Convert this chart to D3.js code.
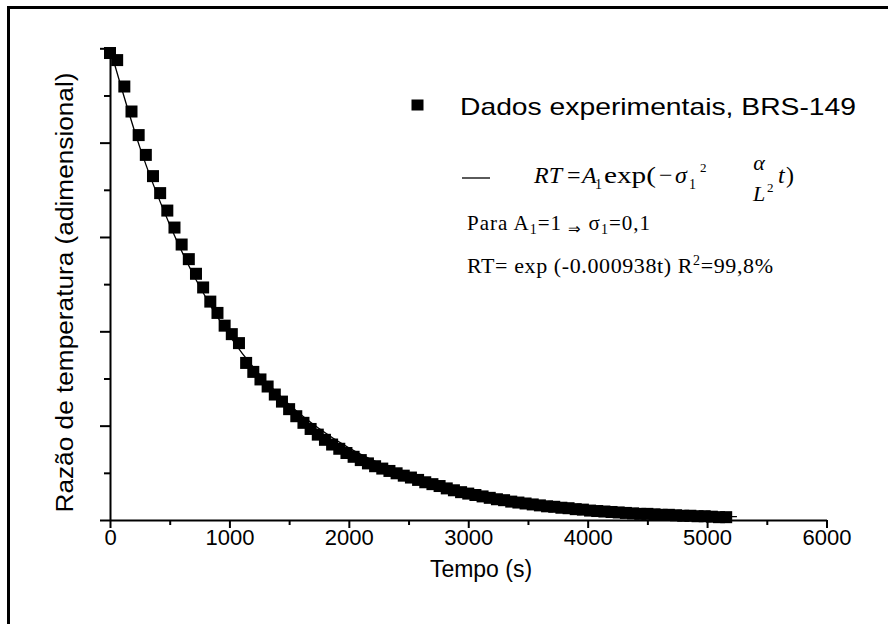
<!DOCTYPE html>
<html>
<head>
<meta charset="utf-8">
<script src="https://cdn.jsdelivr.net/npm/d3@7"></script>
<style>
  body { margin: 0; background: #fff; }
  svg { display: block; }
  .sans { font-family: "Liberation Sans", Arial, sans-serif; }
  .serif { font-family: "Liberation Serif", "Times New Roman", serif; }
</style>
</head>
<body>
<svg id="chart" width="888" height="624"></svg>
<script>
// measured points, time in s
var times = [0, 60, 120, 180, 240, 300, 360, 420, 480, 540, 600, 660, 720, 780, 840, 900, 960,
  1020, 1080, 1140, 1200, 1260, 1320, 1380, 1440, 1500, 1560, 1620, 1680, 1740, 1800, 1860, 1920, 1980,
  2040, 2100, 2160, 2220, 2280, 2340, 2400, 2460, 2520, 2580, 2640, 2700, 2760, 2820, 2880, 2940,
  3000, 3060, 3120, 3180, 3240, 3300, 3360, 3420, 3480, 3540, 3600, 3660, 3720, 3780, 3840, 3900, 3960,
  4020, 4080, 4140, 4200, 4260, 4320, 4380, 4440, 4500, 4560, 4620, 4680, 4740, 4800, 4860, 4920, 4980,
  5040, 5100, 5160];
var rtValues = [0.990, 0.975, 0.919, 0.866, 0.816, 0.774, 0.729, 0.693, 0.656, 0.620, 0.584, 0.553, 0.522, 0.493, 0.463, 0.439, 0.412,
  0.394, 0.375, 0.333, 0.314, 0.298, 0.283, 0.266, 0.251, 0.235, 0.220, 0.206, 0.193, 0.181, 0.170, 0.160, 0.151, 0.142,
  0.134, 0.127, 0.120, 0.114, 0.109, 0.104, 0.099, 0.094, 0.090, 0.085, 0.080, 0.076, 0.072, 0.067, 0.063, 0.059,
  0.056, 0.053, 0.050, 0.047, 0.044, 0.042, 0.039, 0.037, 0.035, 0.033, 0.031, 0.029, 0.028, 0.026, 0.025, 0.023, 0.022,
  0.020, 0.019, 0.018, 0.017, 0.016, 0.015, 0.014, 0.013, 0.013, 0.012, 0.011, 0.011, 0.010, 0.009, 0.009, 0.008, 0.008,
  0.007, 0.006, 0.006];

// fitted curve
var fitT = [0, 250, 500, 750, 1000, 1250, 1500, 1750, 2000, 2250, 2500, 2750, 3000, 3250, 3500, 3750, 4000, 4250, 4500, 4750, 5000, 5250];
var fitRT = [1.0, 0.79, 0.626, 0.495, 0.391, 0.309, 0.245, 0.194, 0.153, 0.121, 0.096, 0.076, 0.060, 0.047, 0.037, 0.030, 0.023, 0.019, 0.015, 0.012, 0.009, 0.007];

var xMajor = [0, 1000, 2000, 3000, 4000, 5000, 6000];
var xMinor = [500, 1500, 2500, 3500, 4500, 5500];
var yMajor = [0, 0.2, 0.4, 0.6, 0.8, 1.0];
var yMinor = [0.1, 0.3, 0.5, 0.7, 0.9];

var svg = d3.select("#chart");

var x = d3.scaleLinear().domain([0, 6000]).range([110, 826.5]);
var y = d3.scaleLinear().domain([0, 1]).range([520, 48.3]);

// frame (only top and left edges show)
svg.append("path")
  .attr("d", "M8.5,624V7.5H888")
  .attr("fill", "none")
  .attr("stroke", "#000")
  .attr("stroke-width", 3);

function styleAxis(g) {
  g.selectAll("path, line").attr("stroke", "#000").attr("stroke-width", 2);
  g.selectAll("text").attr("fill", "#000");
}

svg.append("g")
  .attr("transform", "translate(0,520)")
  .call(d3.axisBottom(x).tickValues(xMinor).tickSize(5).tickFormat(""))
  .call(function(g) { g.select(".domain").remove(); })
  .call(styleAxis);

svg.append("g")
  .attr("transform", "translate(0,520)")
  .call(d3.axisBottom(x).tickValues(xMajor).tickSize(8).tickSizeOuter(0).tickPadding(1).tickFormat(d3.format("d")))
  .call(function(g) { g.selectAll("text").attr("font-size", 22).attr("font-family", "Liberation Sans, Arial, sans-serif"); })
  .call(styleAxis);

svg.append("g")
  .attr("transform", "translate(110,0)")
  .call(d3.axisLeft(y).tickValues(yMinor).tickSize(6).tickFormat(""))
  .call(function(g) { g.select(".domain").remove(); })
  .call(styleAxis);

svg.append("g")
  .attr("transform", "translate(110,0)")
  .call(d3.axisLeft(y).tickValues(yMajor).tickSize(10).tickSizeOuter(0).tickFormat(""))
  .call(styleAxis);

// axis titles
svg.append("text")
  .attr("class", "sans")
  .attr("x", 481).attr("y", 577)
  .attr("text-anchor", "middle")
  .attr("font-size", 23)
  .text("Tempo (s)");

svg.append("text")
  .attr("class", "sans")
  .attr("transform", "translate(73,292.5) rotate(-90)")
  .attr("text-anchor", "middle")
  .attr("font-size", 23)
  .attr("textLength", 440)
  .attr("lengthAdjust", "spacingAndGlyphs")
  .text("Razão de temperatura (adimensional)");

// fit line
var line = d3.line()
  .x(function(d, i) { return x(fitT[i]); })
  .y(function(d) { return y(d); })
  .curve(d3.curveMonotoneX);

svg.append("path")
  .datum(fitRT)
  .attr("d", line)
  .attr("fill", "none")
  .attr("stroke", "#000")
  .attr("stroke-width", 1.3);

// data squares
var sq = 12;
svg.append("g")
  .selectAll("rect")
  .data(rtValues)
  .enter().append("rect")
  .attr("x", function(d, i) { return x(times[i]) - sq / 2; })
  .attr("y", function(d) { return y(d) - sq / 2; })
  .attr("width", sq)
  .attr("height", sq)
  .attr("fill", "#000");

// legend
var legend = svg.append("g");
legend.append("rect")
  .attr("x", 411.5).attr("y", 99.5)
  .attr("width", 12).attr("height", 11)
  .attr("fill", "#000");
legend.append("text")
  .attr("class", "sans")
  .attr("x", 460).attr("y", 115)
  .attr("font-size", 24)
  .attr("textLength", 396)
  .attr("lengthAdjust", "spacingAndGlyphs")
  .text("Dados experimentais, BRS-149");

legend.append("line")
  .attr("x1", 462).attr("x2", 490)
  .attr("y1", 178).attr("y2", 178)
  .attr("stroke", "#000").attr("stroke-width", 1.3);

// equation pieces placed one by one, like the pasted formula image
function eqText(px, py, str, size, italic) {
  return legend.append("text")
    .attr("class", "serif")
    .attr("x", px).attr("y", py)
    .attr("font-size", size)
    .attr("font-style", italic ? "italic" : "normal")
    .text(str);
}
eqText(534, 183, "RT", 24, true);
eqText(567, 183, "=", 24, false);
eqText(582, 183, "A", 24, true);
eqText(595, 189, "1", 14, false);
eqText(604, 183, "exp(", 24, false).attr("textLength", 52).attr("lengthAdjust", "spacingAndGlyphs");
eqText(659, 183, "\u2212", 24, false);
eqText(675, 183, "\u03c3", 24, true);
eqText(689, 189, "1", 14, false);
eqText(700, 172, "2", 13, false);
eqText(759, 170, "\u03b1", 22, true).attr("text-anchor", "middle");
eqText(753, 201, "L", 22, true);
eqText(767, 192, "2", 13, false);
eqText(778, 183, "t", 24, true);
eqText(786, 183, ")", 24, false);

var para = legend.append("text")
  .attr("class", "serif")
  .attr("x", 467).attr("y", 230)
  .attr("font-size", 21)
  .attr("textLength", 183)
  .attr("lengthAdjust", "spacing");
para.append("tspan").text("Para A");
para.append("tspan").attr("font-size", 14).attr("dy", 4).text("1");
para.append("tspan").attr("dy", -4).text("=1 ");
para.append("tspan").attr("font-size", 15).attr("dy", 4).text("\u21d2");
para.append("tspan").attr("dy", -4).text(" \u03c3");
para.append("tspan").attr("font-size", 14).attr("dy", 4).text("1");
para.append("tspan").attr("dy", -4).text("=0,1");

var fit = legend.append("text")
  .attr("class", "serif")
  .attr("x", 467).attr("y", 273)
  .attr("font-size", 22)
  .attr("textLength", 306)
  .attr("lengthAdjust", "spacing");
fit.append("tspan").text("RT= exp (-0.000938t) R");
fit.append("tspan").attr("font-size", 14).attr("dy", -8).text("2");
fit.append("tspan").attr("dy", 8).text("=99,8%");
</script>
</body>
</html>
